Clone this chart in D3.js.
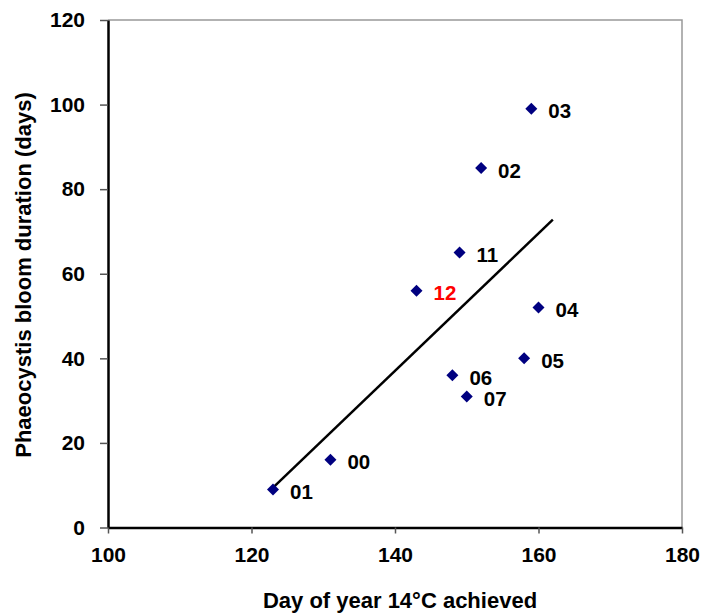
<!DOCTYPE html>
<html>
<head>
<meta charset="utf-8">
<script src="https://cdn.jsdelivr.net/npm/d3@7"></script>
<style>
  html, body { margin: 0; padding: 0; background: #fff; }
  text { font-family: "Liberation Sans", Arial, sans-serif; font-weight: bold; }
</style>
</head>
<body>
<svg id="chart" width="701" height="616"></svg>
<script>
// Bloom years and their values
const years = ["01", "00", "03", "02", "11", "12", "04", "05", "06", "07"];
const day14C = [123, 131, 159, 152, 149, 143, 160, 158, 148, 150];
const bloomDays = [9, 16, 99, 85, 65, 56, 52, 40, 36, 31];
const highlightYears = ["12"];
const xTicks = [100, 120, 140, 160, 180];
const yTicks = [0, 20, 40, 60, 80, 100, 120];
const trendRange = [123, 162];

const svg = d3.select("#chart");
const margin = { left: 108, right: 19, top: 20, bottom: 88.5 };
const W = 701, H = 616;
const FONT = '"Liberation Sans", Arial, sans-serif';

const x = d3.scaleLinear().domain([100, 180]).range([margin.left, W - margin.right]);
const y = d3.scaleLinear().domain([0, 120]).range([H - margin.bottom, margin.top]);

// plot frame (top/right)
svg.append("path")
  .attr("d", `M${x(100)},${y(120)}H${x(180)}V${y(0)}`)
  .attr("fill", "none").attr("stroke", "#999").attr("stroke-width", 1.5);

// axes
const yAxis = svg.append("g").attr("transform", `translate(${x(100)},0)`)
  .call(d3.axisLeft(y).tickValues(yTicks).tickSize(8).tickPadding(15).tickSizeOuter(0));
const xAxis = svg.append("g").attr("transform", `translate(0,${y(0)})`)
  .call(d3.axisBottom(x).tickValues(xTicks).tickSize(6).tickPadding(14).tickSizeOuter(0));

[yAxis, xAxis].forEach(g => {
  g.attr("font-size", null).attr("font-family", null);
  g.select(".domain").attr("stroke", "#000").attr("stroke-width", 2.5);
  g.selectAll(".tick line").attr("stroke", "#555").attr("stroke-width", 1.5);
  g.selectAll(".tick text").attr("fill", "#000")
    .style("font-size", "21px").style("font-family", FONT).style("font-weight", "bold");
});

// least-squares trend line
const mx = d3.mean(day14C), my = d3.mean(bloomDays);
const slope = d3.sum(day14C, (d, i) => (d - mx) * (bloomDays[i] - my)) /
              d3.sum(day14C, d => (d - mx) * (d - mx));
const icpt = my - slope * mx;
svg.append("line")
  .attr("x1", x(trendRange[0])).attr("y1", y(icpt + slope * trendRange[0]))
  .attr("x2", x(trendRange[1])).attr("y2", y(icpt + slope * trendRange[1]))
  .attr("stroke", "#000").attr("stroke-width", 2.5);

// markers
const pts = years.map((yr, i) => ({ yr, xv: day14C[i], yv: bloomDays[i] }));
svg.append("g").selectAll("path").data(pts).join("path")
  .attr("transform", d => `translate(${x(d.xv)},${y(d.yv)})`)
  .attr("d", "M0,-6L6,0L0,6L-6,0Z")
  .attr("fill", "#000080");

// year labels
svg.append("g").selectAll("text").data(pts).join("text")
  .attr("x", d => x(d.xv) + 17)
  .attr("y", d => y(d.yv) + 9.5)
  .attr("fill", d => highlightYears.includes(d.yr) ? "#ff0000" : "#000")
  .style("font-size", "20.5px")
  .text(d => d.yr);

// axis titles
svg.append("text")
  .attr("x", 400).attr("y", 608)
  .attr("text-anchor", "middle")
  .style("font-size", "22px")
  .text("Day of year 14°C achieved");
svg.append("text")
  .attr("transform", "translate(31,275) rotate(-90)")
  .attr("text-anchor", "middle")
  .style("font-size", "22px")
  .text("Phaeocystis bloom duration (days)");
</script>
</body>
</html>
